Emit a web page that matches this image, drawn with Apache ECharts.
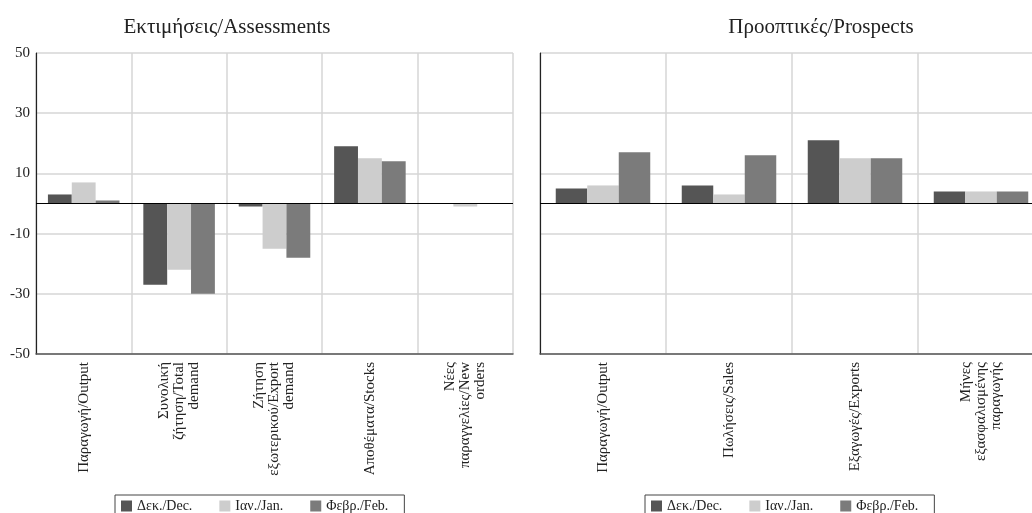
<!DOCTYPE html>
<html>
<head>
<meta charset="utf-8">
<script src="https://cdn.jsdelivr.net/npm/echarts@6/dist/echarts.min.js"></script>
<style>
  html, body { margin: 0; padding: 0; background: #fff; }
  #main { width: 1032px; height: 513px; }
</style>
</head>
<body>
<div id="main"></div>
<script>
// categories
var assessCats = ['Παραγωγή/Output', 'Συνολική\nζήτηση/Total\ndemand', 'Ζήτηση\nεξωτερικού/Export\ndemand', 'Αποθέματα/Stocks', 'Νέες\nπαραγγελίες/New\norders'];
var prospectCats = ['Παραγωγή/Output', 'Πωλήσεις/Sales', 'Εξαγωγές/Exports', 'Μήνες\nεξασφαλισμένης\nπαραγωγής'];
var months = ['Δεκ./Dec.', 'Ιαν./Jan.', 'Φεβρ./Feb.'];
var colors = ['#555555', '#cdcdcd', '#7b7b7b'];

// values
var assessDec = [3, -27, -1, 19, 0];
var assessJan = [7, -22, -15, 15, -1];
var assessFeb = [1, -30, -18, 14, 0];
var prospDec = [5, 6, 21, 4];
var prospJan = [6, 3, 15, 4];
var prospFeb = [17, 16, 15, 4];

var FONT = '"Liberation Serif", "DejaVu Serif", serif';

function bars(name, data, idx, color, zero) {
    var s = {
        name: name, type: 'bar', data: data,
        xAxisIndex: idx, yAxisIndex: idx,
        barGap: 0, barCategoryGap: '25%',
        itemStyle: { color: color },
        animation: false
    };
    if (zero) {
        // zero line across the plot
        s.markLine = {
            silent: true, symbol: 'none', label: { show: false },
            lineStyle: { color: '#000', width: 1.2, type: 'solid' },
            data: [{ yAxis: 0 }]
        };
    }
    return s;
}

function xAx(cats, idx) {
    return {
        type: 'category', gridIndex: idx, data: cats,
        axisLine: { onZero: false, lineStyle: { color: '#555', width: 1.5 } },
        axisTick: { show: false },
        splitLine: { show: true, lineStyle: { color: '#d6d6d6', width: 1.5 } },
        axisLabel: { rotate: 90, interval: 0, fontFamily: FONT, fontSize: 15, color: '#222', margin: 8, lineHeight: 15 }
    };
}

function yAx(idx, labels) {
    return {
        type: 'value', gridIndex: idx, min: -50, max: 50, interval: 20,
        axisLine: { show: true, lineStyle: { color: '#222', width: 1.2 } },
        axisTick: { show: false },
        splitLine: { lineStyle: { color: '#d6d6d6', width: 1.5 } },
        axisLabel: { show: labels, fontFamily: FONT, fontSize: 15, color: '#222', margin: 6 }
    };
}

var legendBase = {
    data: months, top: 495, icon: 'rect', itemWidth: 11, itemHeight: 11, itemGap: 27,
    borderColor: '#444', borderWidth: 1, padding: [4, 16, 10, 6],
    textStyle: { fontFamily: FONT, fontSize: 14, color: '#222' }
};

var option = {
    backgroundColor: '#fff',
    title: [
        { text: 'Εκτιμήσεις/Assessments', left: 222, top: 12, textAlign: 'center',
          textStyle: { fontFamily: FONT, fontSize: 21, fontWeight: 'normal', color: '#222' } },
        { text: 'Προοπτικές/Prospects', left: 816, top: 12, textAlign: 'center',
          textStyle: { fontFamily: FONT, fontSize: 21, fontWeight: 'normal', color: '#222' } }
    ],
    legend: [
        Object.assign({}, legendBase, { left: 115 }),
        Object.assign({}, legendBase, { left: 645 })
    ],
    grid: [
        { left: 36, top: 53, width: 477, height: 301, outerBoundsMode: 'none' },
        { left: 540, top: 53, width: 504, height: 301, outerBoundsMode: 'none' }
    ],
    xAxis: [xAx(assessCats, 0), xAx(prospectCats, 1)],
    yAxis: [yAx(0, true), yAx(1, false)],
    series: [
        bars(months[0], assessDec, 0, colors[0], true),
        bars(months[1], assessJan, 0, colors[1], false),
        bars(months[2], assessFeb, 0, colors[2], false),
        bars(months[0], prospDec, 1, colors[0], true),
        bars(months[1], prospJan, 1, colors[1], false),
        bars(months[2], prospFeb, 1, colors[2], false)
    ]
};

echarts.init(document.getElementById('main')).setOption(option);
</script>
</body>
</html>
